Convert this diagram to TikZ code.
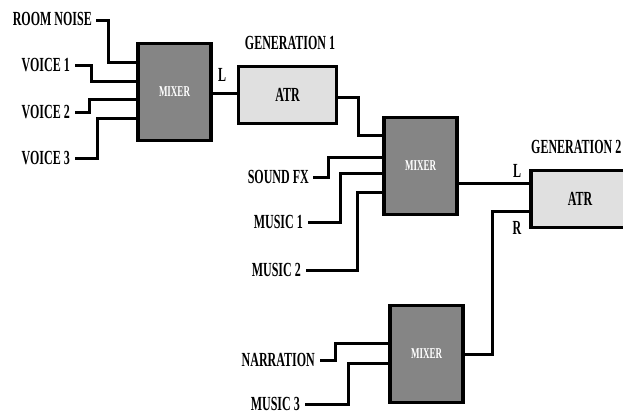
\documentclass[tikz,border=0pt]{standalone}
\usepackage{fontspec}
\setmainfont{Liberation Serif}
\usepackage{graphicx}
\usepackage{tikz}
\usetikzlibrary{positioning, calc}
\definecolor{mixgray}{HTML}{858585}
\definecolor{atrgray}{HTML}{E0E0E0}
\newcommand{\cond}[1]{\scalebox{0.6}[1]{#1}}

\begin{document}
\begin{tikzpicture}[
  x=1pt, y=-1pt,
  line cap=butt, line join=miter,
  mixer/.style={draw=black, fill=mixgray, line width=3.8pt,
    minimum width=73pt, minimum height=97pt, inner sep=0pt,
    font=\fontsize{15}{15}\selectfont\bfseries, text=white},
  atr/.style={draw=black, fill=atrgray, line width=3.4pt,
    minimum width=98pt, minimum height=57pt, inner sep=0pt,
    font=\fontsize{20}{20}\selectfont\bfseries},
  wire/.style={line width=3pt, draw=black},
  lab/.style={font=\fontsize{20}{20}\selectfont\bfseries, inner sep=0pt, anchor=east},
  tag/.style={font=\fontsize{20}{20}\selectfont\bfseries, inner sep=0pt},
]
\useasboundingbox (0,0) rectangle (623,416);

% mixers and recorders
\node[mixer] (m1) at (174.5,92) {\cond{MIXER}};
\node[mixer] (m2) at (420.5,166) {\cond{MIXER}};
\node[mixer] (m3) at (426.5,354) {\cond{MIXER}};
\node[atr] (a1) at (287.5,95) {\cond{ATR}};
\node[atr] (a2) at (580,199) {\cond{ATR}};
\node[tag] (g1) at (290,43) {\cond{GENERATION 1}};
\node[tag, anchor=west] (g2) at (531,147) {\cond{GENERATION 2}};

% ports
\coordinate (m1p1) at (m1.west |- 0,62);
\coordinate (m1p2) at (m1.west |- 0,81);
\coordinate (m1p3) at (m1.west |- 0,99);
\coordinate (m1p4) at (m1.west |- 0,118);
\coordinate (m2p1) at (m2.west |- 0,135);
\coordinate (m2p2) at (m2.west |- 0,157);
\coordinate (m2p3) at (m2.west |- 0,173);
\coordinate (m2p4) at (m2.west |- 0,192);
\coordinate (m3p1) at (m3.west |- 0,343);
\coordinate (m3p2) at (m3.west |- 0,363);
\coordinate (a1out) at (a1.east |- 0,97);
\coordinate (a2L) at (a2.west |- 0,183);
\coordinate (a2R) at (a2.west |- 0,211);

% generation 1 sources
\node[lab] (rn) at (92,19) {\cond{ROOM NOISE}};
\node[lab] (v1) at (70,65) {\cond{VOICE 1}};
\node[lab] (v2) at (70,112) {\cond{VOICE 2}};
\node[lab] (v3) at (70,158) {\cond{VOICE 3}};
\draw[wire] (rn.east) ++(4,1) -- ++(12,0) |- (m1p1);
\draw[wire] (v1.east) ++(5,0) -- ++(16,0) |- (m1p2);
\draw[wire] (v2.east) ++(5,0) -- ++(14,0) |- (m1p3);
\draw[wire] (v3.east) ++(5,0) -- ++(22,0) |- (m1p4);

\draw[wire] (m1.east |- a1out) ++(0,-4) -- (a1.west |- 0,93);
\node[tag] (l1) at (222,75) {\cond{L}};

% generation 2 sources
\node[lab] (fx) at (309,177) {\cond{SOUND FX}};
\node[lab] (mu1) at (303,222) {\cond{MUSIC 1}};
\node[lab] (mu2) at (301,270) {\cond{MUSIC 2}};
\draw[wire] (a1out) -- ++(20,0) |- (m2p1);
\draw[wire] (fx.east) ++(4,0) -- ++(15,0) |- (m2p2);
\draw[wire] (mu1.east) ++(5,0) -- ++(32,0) |- (m2p3);
\draw[wire] (mu2.east) ++(5,0) -- ++(51,0) |- (m2p4);

\draw[wire] (m2.east |- a2L) -- (a2L);
\node[tag] (l2) at (517,171) {\cond{L}};
\node[tag] (r2) at (517,228) {\cond{R}};

% narration mix
\node[lab] (nar) at (315,360) {\cond{NARRATION}};
\node[lab] (mu3) at (300,404) {\cond{MUSIC 3}};
\draw[wire] (nar.east) ++(5,0) -- ++(15,0) |- (m3p1);
\draw[wire] (mu3.east) ++(5,0) -- ++(43,0) |- (m3p2);
\draw[wire] (m3.east) -- ++(28,0) |- (a2R);
\end{tikzpicture}
\end{document}
